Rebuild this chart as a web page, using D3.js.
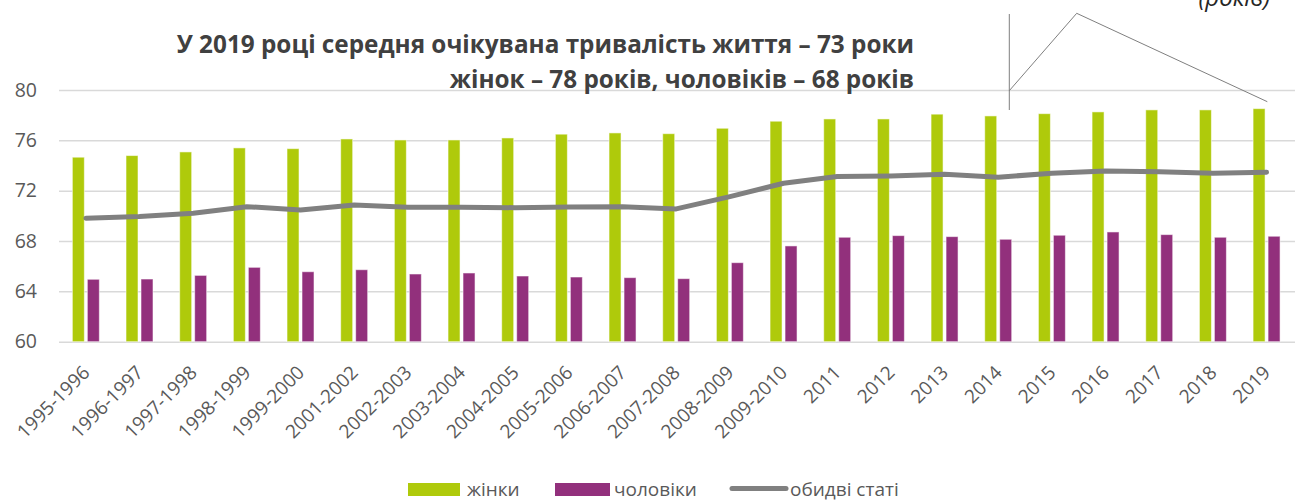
<!DOCTYPE html>
<html>
<head>
<meta charset="utf-8">
<script src="https://cdnjs.cloudflare.com/ajax/libs/d3/7.8.5/d3.min.js"></script>
<style>
    body { margin: 0; background: #fff; }
    #chart-area { width: 1297px; height: 501px; }
    text { font-family: "Open Sans", sans-serif; }
</style>
</head>
<body>
<div id="chart-area"></div>
<script>
// life expectancy in Ukraine
const categories = ["1995-1996", "1996-1997", "1997-1998", "1998-1999", "1999-2000", "2001-2002",
    "2002-2003", "2003-2004", "2004-2005", "2005-2006", "2006-2007", "2007-2008", "2008-2009",
    "2009-2010", "2011", "2012", "2013", "2014", "2015", "2016", "2017", "2018", "2019"];
const women = [74.66, 74.79, 75.08, 75.40, 75.34, 76.11, 76.03, 76.03, 76.19, 76.49, 76.59, 76.53,
    76.96, 77.52, 77.70, 77.70, 78.08, 77.94, 78.12, 78.26, 78.42, 78.42, 78.52];
const men = [64.96, 64.98, 65.27, 65.91, 65.56, 65.72, 65.38, 65.46, 65.22, 65.14, 65.09, 65.01,
    66.28, 67.61, 68.30, 68.43, 68.35, 68.14, 68.46, 68.72, 68.51, 68.30, 68.38];
const both = [69.81, 69.94, 70.20, 70.73, 70.47, 70.87, 70.68, 70.68, 70.65, 70.70, 70.72, 70.55,
    71.53, 72.59, 73.12, 73.17, 73.30, 73.07, 73.39, 73.57, 73.51, 73.39, 73.47];
const yTicks = [60, 64, 68, 72, 76, 80];
const seriesNames = ["жінки", "чоловіки", "обидві статі"];
const titleLines = ["У 2019 році середня очікувана тривалість життя – 73 роки",
    "жінок – 78 років, чоловіків – 68 років"];
const unitLabel = "(років)";

const colors = {women: "#afca0b", men: "#92307c", both: "#808080"};

class LifeChart {

    constructor(parentElement) {
        this.parentElement = parentElement;
        this.initVis();
    }

    initVis() {
        let vis = this;

        vis.left = 59;
        vis.right = 1293.4;
        vis.top = 90;
        vis.bottom = 341.7;

        vis.svg = d3.select("#" + vis.parentElement).append("svg")
            .attr("width", 1297)
            .attr("height", 501);

        // scales
        vis.x = d3.scaleBand()
            .domain(categories)
            .range([vis.left, vis.right]);

        vis.xSub = d3.scaleBand()
            .domain(["women", "men"])
            .range([0, vis.x.bandwidth()])
            .paddingInner(0.2)
            .paddingOuter(0.89);

        vis.y = d3.scaleLinear()
            .domain([60, 80])
            .range([vis.bottom, vis.top]);

        // gridlines
        let grid = vis.svg.append("g")
            .attr("class", "grid")
            .attr("transform", "translate(" + vis.left + ",0)")
            .call(d3.axisLeft(vis.y).tickValues(yTicks).tickSize(-(1295 - vis.left)).tickFormat(""));
        grid.select(".domain").remove();
        grid.selectAll("line").attr("stroke", "#d9d9d9").attr("stroke-width", 1.5);

        // y axis labels
        let yAxis = vis.svg.append("g")
            .attr("transform", "translate(" + vis.left + ",0)")
            .call(d3.axisLeft(vis.y).tickValues(yTicks).tickSize(0).tickPadding(22));
        yAxis.select(".domain").remove();
        yAxis.selectAll("text")
            .attr("fill", "#595959")
            .style("font-size", "19.5px");

        // x axis labels, rotated
        let xAxis = vis.svg.append("g")
            .attr("transform", "translate(0," + vis.bottom + ")")
            .call(d3.axisBottom(vis.x).tickSize(0));
        xAxis.select(".domain").remove();
        xAxis.selectAll("text")
            .attr("y", null)
            .attr("dy", null)
            .attr("text-anchor", "end")
            .attr("transform", "translate(5,32) rotate(-45)")
            .attr("fill", "#595959")
            .style("font-size", "19px");

        vis.wrangleData();
    }

    wrangleData() {
        let vis = this;

        vis.displayData = categories.map((c, i) => ({
            cat: c,
            women: women[i],
            men: men[i],
            both: both[i]
        }));

        vis.updateVis();
    }

    updateVis() {
        let vis = this;

        // bars
        ["women", "men"].forEach(key => {
            vis.svg.append("g").selectAll("rect")
                .data(vis.displayData)
                .enter().append("rect")
                .attr("x", d => vis.x(d.cat) + vis.xSub(key))
                .attr("width", vis.xSub.bandwidth())
                .attr("y", d => vis.y(d[key]))
                .attr("height", d => vis.bottom - vis.y(d[key]))
                .attr("fill", colors[key])
                .attr("stroke", "#fff")
                .attr("stroke-opacity", 0.55)
                .attr("stroke-width", 1);
        });

        // line for both sexes
        let line = d3.line()
            .x(d => vis.x(d.cat) + vis.x.bandwidth() / 2)
            .y(d => vis.y(d.both));

        vis.svg.append("path")
            .datum(vis.displayData)
            .attr("d", line)
            .attr("fill", "none")
            .attr("stroke", colors.both)
            .attr("stroke-width", 5)
            .attr("stroke-linecap", "round")
            .attr("stroke-linejoin", "round");

        // title, right aligned
        let title = vis.svg.append("g")
            .attr("fill", "#404040")
            .style("font-weight", "bold");
        title.selectAll("text")
            .data(titleLines)
            .enter().append("text")
            .attr("x", 914)
            .attr("y", (d, i) => 53 + i * 35)
            .attr("text-anchor", "end")
            .style("font-size", "21px")
            .text(d => d);

        // fit the first line to the width in the picture
        let first = title.select("text").node();
        let scale = 738 / first.getComputedTextLength();
        title.selectAll("text").style("font-size", (21 * scale) + "px");

        // stray callout shape from the original file
        vis.svg.append("line")
            .attr("x1", 1009.3).attr("y1", 14)
            .attr("x2", 1009.3).attr("y2", 110)
            .attr("stroke", "#7f7f7f").attr("stroke-width", 1);
        vis.svg.append("polyline")
            .attr("points", "1009.3,90.7 1076.7,13.3 1267.3,101.7")
            .attr("fill", "none")
            .attr("stroke", "#7f7f7f").attr("stroke-width", 1);

        // unit label, cut by the top edge as in the picture
        vis.svg.append("text")
            .attr("x", 1270)
            .attr("y", 6)
            .attr("text-anchor", "end")
            .attr("fill", "#262626")
            .style("font-size", "24px")
            .style("font-style", "italic")
            .text(unitLabel);

        // legend
        let legend = vis.svg.append("g").attr("class", "legend");
        let lx = [408, 555, 730];

        legend.selectAll("rect")
            .data(seriesNames.slice(0, 2))
            .enter().append("rect")
            .attr("x", (d, i) => lx[i])
            .attr("y", 483)
            .attr("width", (d, i) => i === 0 ? 52 : 55)
            .attr("height", 13)
            .attr("fill", (d, i) => i === 0 ? colors.women : colors.men);

        legend.append("line")
            .attr("x1", lx[2] + 2).attr("x2", lx[2] + 56)
            .attr("y1", 488.5).attr("y2", 488.5)
            .attr("stroke", colors.both)
            .attr("stroke-width", 5)
            .attr("stroke-linecap", "round");

        legend.selectAll("text")
            .data(seriesNames)
            .enter().append("text")
            .attr("x", (d, i) => [467, 614, 790][i])
            .attr("y", 495.5)
            .attr("fill", "#595959")
            .style("font-size", "19px")
            .text(d => d);
    }
}

let chart = new LifeChart("chart-area");
</script>
</body>
</html>
